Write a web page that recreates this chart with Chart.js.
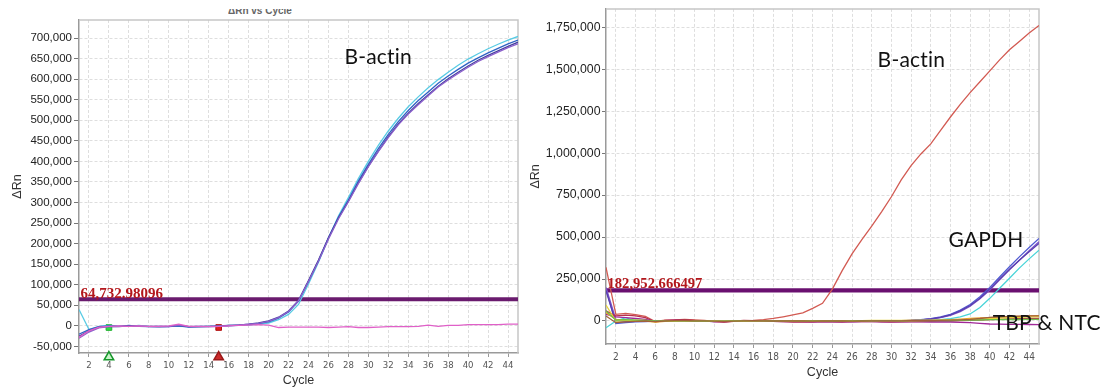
<!DOCTYPE html>
<html><head><meta charset="utf-8">
<script src="https://cdn.jsdelivr.net/npm/chart.js@4"></script>
<style>
html,body{margin:0;padding:0;background:#fff;width:1108px;height:389px;overflow:hidden;position:relative}
#c1{position:absolute;left:0;top:0}
#c2{position:absolute;left:525px;top:0}
#ttlbox{position:absolute;left:228px;top:9px;width:70px;height:8px;overflow:hidden}
#ttl{position:absolute;left:0;top:-4px;font:bold 10px 'Liberation Sans',sans-serif;color:#666;white-space:nowrap}
</style></head><body>
<div id="ttlbox"><div id="ttl">ΔRn vs Cycle</div></div>
<canvas id="c1" width="525" height="389"></canvas>
<canvas id="c2" width="583" height="389"></canvas>
<script>
// ---------- data ----------
const cycles = [1,2,3,4,5,6,7,8,9,10,11,12,13,14,15,16,17,18,19,20,21,22,23,24,25,26,27,28,29,30,31,32,33,34,35,36,37,38,39,40,41,42,43,44,45];
const xTickValues = [2,4,6,8,10,12,14,16,18,20,22,24,26,28,30,32,34,36,38,40,42,44];
const leftYTicks = [-50000,0,50000,100000,150000,200000,250000,300000,350000,400000,450000,500000,550000,600000,650000,700000];
const rightYTicks = [0,250000,500000,750000,1000000,1250000,1500000,1750000];
const leftThreshold = 64732.98096;
const rightThreshold = 182952.666497;
const baselineStart = 4;
const baselineEnd = 15;

const leftBlue = [-20000,-9000,-2000,0,-1000,1000,-1000,-2000,-1000,-2000,
0,-3000,-2000,-1000,0,1000,2000,3000,6000,10000,
19000,34000,60000,108000,158000,214000,264000,306000,352000,393000,
431000,466000,497000,524000,548000,569000,590000,608000,624000,639000,
652000,664000,675000,686000,695000];
const leftCyan = [40000,-9000,-1000,1000,0,-1000,1000,-1000,-2000,-1000,
-1000,-2000,-1000,-2000,-1000,0,1000,2000,4000,7000,
15000,28000,52000,102000,155000,213000,267000,312000,358000,400000,
439000,474000,505000,533000,557000,579000,599000,617000,634000,649000,
662000,674000,685000,695000,704000];
const leftNavy = [-25000,-12000,-3000,-1000,-2000,0,-1000,-1000,-2000,-1000,
1000,-2000,-2000,-1000,-1000,1000,2000,4000,7000,12000,
21000,36000,62000,110000,160000,214000,262000,303000,348000,388000,
425000,460000,491000,517000,541000,562000,583000,601000,617000,632000,
646000,658000,669000,680000,690000];
const leftViolet = [-30000,-15000,-5000,-2000,-1000,-1000,0,-2000,-1000,-2000,
2000,-2000,-1000,-2000,-1000,0,2000,4000,6000,11000,
20000,35000,61000,108000,157000,211000,260000,302000,346000,387000,
424000,458000,489000,515000,538000,560000,581000,598000,614000,629000,
643000,655000,666000,677000,686000];
const leftNTC = [-28000,-12000,-3000,-1000,0,-1000,0,-1000,-1000,0,
4000,-1000,-1000,-2000,-1000,0,1000,2000,3000,2000,
-4000,-3000,-3000,-3000,-3000,-4000,-3000,-2000,-4000,-4000,
-3000,-2000,-2000,-2000,-1000,2000,-1000,1000,1000,3000,
3000,3000,3000,4000,4000];

const rightBactin = [320000,40000,45000,38000,28000,-3000,5000,6000,10000,6000,
3000,-2000,-5000,-2000,2000,4000,8000,15000,25000,36000,
48000,75000,105000,190000,300000,400000,485000,565000,650000,740000,
840000,925000,995000,1055000,1135000,1215000,1290000,1360000,1425000,1490000,
1555000,1615000,1665000,1715000,1760000];
const rightNtcRed = [60000,30000,35000,30000,20000,-5000,3000,6000,8000,4000,
2000,-4000,-6000,-1000,3000,2000,1000,-2000,-4000,-6000,
-5000,-6000,-4000,-5000,-7000,-4000,-3000,-2000,-5000,-6000,
-5000,-4000,-3000,-2000,-1000,0,2000,4000,6000,8000,
10000,12000,14000,15000,16000];
const gapdhBlue = [190000,-15000,-10000,-5000,-3000,0,2000,1000,3000,1000,
-1000,-2000,-2000,0,1000,0,-1000,0,1000,2000,
0,-1000,-2000,-1000,0,-2000,-1000,0,-1000,0,
2000,4000,8000,14000,24000,40000,65000,98000,145000,200000,
262000,323000,382000,438000,492000];
const gapdhViolet = [200000,10000,0,-2000,-1000,-2000,1000,2000,2000,0,
0,-3000,-1000,-1000,0,1000,0,-1000,0,1000,
-1000,-2000,-1000,0,-1000,-3000,-2000,-1000,0,-1000,
1000,3000,6000,11000,20000,34000,56000,88000,132000,185000,
245000,305000,362000,418000,472000];
const gapdhIndigo = [180000,-8000,-4000,-2000,0,-1000,0,1000,2000,1000,
0,-1000,-2000,-1000,0,0,1000,0,-1000,0,
1000,0,-1000,0,1000,-1000,-2000,0,0,1000,
2000,4000,7000,12000,22000,37000,60000,92000,136000,190000,
250000,308000,362000,413000,462000];
const gapdhCyan = [-40000,0,20000,0,2000,-2000,0,1000,1000,0,
-1000,-2000,-1000,0,0,1000,0,-1000,0,1000,
0,-1000,-1000,0,1000,-1000,0,0,-1000,0,
1000,2000,3000,4000,8000,14000,24000,42000,80000,135000,
195000,255000,315000,370000,422000];
const tbpOrange = [50000,10000,5000,2000,0,-6000,-2000,0,2000,1000,
0,-1000,-2000,-1000,0,1000,1000,2000,1000,0,
1000,0,1000,2000,1000,0,1000,2000,2000,2000,
2000,3000,3000,4000,5000,8000,11000,15000,18000,20000,
23000,26000,28000,30000,32000];
const tbpYellow = [95000,0,2000,5000,3000,-4000,0,1000,2000,1000,
1000,0,-1000,0,1000,1000,2000,2000,1000,1000,
2000,1000,2000,2000,2000,1000,2000,3000,3000,3000,
3000,3000,4000,4000,5000,5000,7000,10000,12000,14000,
17000,20000,22000,24000,25000];
const tbpGreen = [60000,5000,8000,5000,3000,0,1000,1000,2000,0,
0,-1000,-1000,0,1000,1000,1000,0,1000,1000,
0,1000,1000,0,1000,1000,2000,1000,2000,2000,
1000,2000,2000,2000,3000,3000,4000,5000,6000,8000,
8000,9000,9000,10000,10000];
const tbpPurple = [40000,25000,20000,15000,10000,-3000,2000,3000,2000,0,
-1000,-3000,-4000,-2000,0,1000,0,-2000,-3000,-4000,
-4000,-5000,-5000,-4000,-5000,-5000,-4000,-3000,-5000,-5000,
-5000,-5000,-5000,-6000,-6000,-6000,-8000,-10000,-14000,-18000,
-19000,-20000,-20000,-21000,-22000];
const tbpBrown = [30000,-10000,-5000,-2000,0,-4000,0,2000,3000,1000,
1000,-1000,-3000,-1000,1000,2000,1000,0,0,1000,
0,-1000,0,1000,0,-1000,0,1000,1000,1000,
1000,2000,2000,3000,4000,5000,7000,10000,15000,22000,
25000,27000,29000,30000,30000];

// ---------- helpers ----------
const fmt = v => v.toLocaleString('en-US', {maximumFractionDigits: 6});
function curve(values, color, w) {
  return {type:'line', data: cycles.map((c,i)=>({x:c, y:values[i]})), borderColor: color,
          borderWidth: w || 1.3, pointRadius: 0, tension: 0, fill: false};
}
function thresholdLine(v, color) {
  return {type:'line', data:[{x:cycles[0], y:v},{x:cycles[cycles.length-1], y:v}], borderColor: color,
          borderWidth: 4.2, pointRadius: 0, tension: 0, fill:false};
}
const framePlugin = {
  id: 'frame',
  beforeDatasetsDraw(chart) {
    const a = chart.chartArea, ctx = chart.ctx;
    ctx.save();
    ctx.strokeStyle = '#c6c6c6'; ctx.lineWidth = 1.5;
    ctx.beginPath();
    ctx.moveTo(a.left, a.top); ctx.lineTo(a.right, a.top); ctx.lineTo(a.right, a.bottom);
    ctx.stroke();
    ctx.restore();
  }
};
const notesPlugin = {
  id: 'notes',
  afterDatasetsDraw(chart, args, opts) {
    const ctx = chart.ctx, xs = chart.scales.x, ys = chart.scales.y;
    ctx.save();
    // threshold label
    ctx.font = 'bold ' + opts.thrSize + 'px "Liberation Serif", serif';
    ctx.fillStyle = '#b3171c';
    ctx.textAlign = 'left'; ctx.textBaseline = 'alphabetic';
    ctx.fillText(fmt(opts.threshold), xs.getPixelForValue(cycles[0]) + 1.5, ys.getPixelForValue(opts.threshold) - opts.thrLift);
    // annotations
    ctx.font = '21px Lato, "Open Sans", sans-serif';
    if ('letterSpacing' in ctx) ctx.letterSpacing = '0.2px';
    ctx.fillStyle = '#111';
    ctx.textBaseline = 'middle';
    for (const n of opts.items) ctx.fillText(n.text, xs.getPixelForValue(n.x), ys.getPixelForValue(n.y));
    ctx.restore();
  }
};

function makeOptions(o) {
  return {
    responsive: false, animation: false,
    layout: {padding: {left: 0, top: o.top, right: o.right, bottom: 0}},
    plugins: {
      legend: {display: false}, tooltip: {enabled: false}, title: {display: false},
      notes: {threshold: o.threshold, thrSize: o.thrSize, thrLift: o.thrLift, items: o.items}
    },
    scales: {
      x: {
        type: 'linear', min: 1, max: 45,
        afterBuildTicks: s => { s.ticks = xTickValues.map(v => ({value: v})); },
        afterFit: s => { s.height = o.xh; },
        ticks: {font: {family: "'Liberation Sans Narrow','DejaVu Sans Condensed',sans-serif", size: o.xfs},
                color: '#555', padding: 3, autoSkip: false, maxRotation: 0},
        grid: {color: '#dedede', tickColor: '#999', tickLength: 4, lineWidth: 1},
        border: {color: '#9a9a9a', width: 1.5, dash: [3, 2]},
        title: {display: true, text: 'Cycle', color: '#333',
                font: {family: "'Liberation Sans',sans-serif", size: 12.5}, padding: {top: 0, bottom: o.xtp}}
      },
      y: {
        type: 'linear', min: o.ymin, max: o.ymax,
        afterBuildTicks: s => { s.ticks = o.yticks.map(v => ({value: v})); },
        afterFit: s => { s.width = o.yw; },
        ticks: {font: {family: "'Liberation Sans',sans-serif", size: o.yfs}, color: '#222',
                padding: o.ypad, callback: v => fmt(v), autoSkip: false},
        grid: {color: '#dedede', tickColor: '#777', tickLength: o.ytl, lineWidth: 1},
        border: {color: '#9a9a9a', width: 1.5, dash: [3, 2]},
        title: {display: true, text: 'ΔRn', color: '#333',
                font: {family: "'Liberation Sans',sans-serif", size: 12.5}, padding: {top: o.ytp, bottom: 0}}
      }
    }
  };
}

// ---------- left chart ----------
new Chart(document.getElementById('c1'), {
  type: 'line',
  data: {datasets: [
    curve(leftNTC, '#e060c8'),
    curve(leftViolet, '#8c60cc'),
    curve(leftNavy, '#46409e'),
    curve(leftBlue, '#2f62c4'),
    curve(leftCyan, '#58cbe4'),
    thresholdLine(leftThreshold, '#6a1b6e'),
    {type:'scatter', data:[{x:baselineStart, y:-4000}], pointStyle:'rect', pointRadius:4,
     backgroundColor:'#2ee040', borderColor:'#22b030', borderWidth:1},
    {type:'scatter', data:[{x:baselineEnd, y:-4000}], pointStyle:'rect', pointRadius:4,
     backgroundColor:'#e02020', borderColor:'#b01010', borderWidth:1},
    {type:'scatter', data:[{x:baselineStart, y:-76000}], pointStyle:'triangle', pointRadius:5.5, clip:false,
     backgroundColor:'#c8f2c8', borderColor:'#15962a', borderWidth:1.5},
    {type:'scatter', data:[{x:baselineEnd, y:-76000}], pointStyle:'triangle', pointRadius:5.5, clip:false,
     backgroundColor:'#cc2a2a', borderColor:'#9a1a1a', borderWidth:1.5}
  ]},
  options: makeOptions({top: 20, right: 6, xh: 36, yw: 79, ymin: -66000, ymax: 744000, yticks: leftYTicks,
    xfs: 9.5, yfs: 11.5, ypad: 2, ytl: 5, xtp: 1, ytp: 10.5,
    threshold: leftThreshold, thrSize: 15, thrLift: 1.5,
    items: [{text: 'B-actin', x: 27.6, y: 654000}]}),
  plugins: [framePlugin, notesPlugin]
});

// ---------- right chart ----------
new Chart(document.getElementById('c2'), {
  type: 'line',
  data: {datasets: [
    curve(tbpBrown, '#a0603c'),
    curve(tbpGreen, '#6cc04a'),
    curve(tbpYellow, '#e6d23c'),
    curve(tbpOrange, '#e8a028'),
    curve(tbpPurple, '#a02898'),
    curve(rightNtcRed, '#b8304c'),
    curve(gapdhCyan, '#48d4d8'),
    curve(gapdhIndigo, '#5a3fb0'),
    curve(gapdhViolet, '#7c52c8'),
    curve(gapdhBlue, '#4f5ad2'),
    curve(rightBactin, '#d25a52'),
    thresholdLine(rightThreshold, '#6a1070')
  ]},
  options: makeOptions({top: 8, right: 69, xh: 45, yw: 81, ymin: -137000, ymax: 1859000, yticks: rightYTicks,
    xfs: 10, yfs: 12.3, ypad: 1.5, ytl: 4, xtp: 8.5, ytp: 3.5,
    threshold: rightThreshold, thrSize: 14.6, thrLift: 2,
    items: [{text: 'B-actin', x: 28.6, y: 1552000},
            {text: 'GAPDH', x: 35.8, y: 481000},
            {text: 'TBP & NTC', x: 40.3, y: -12000}]}),
  plugins: [framePlugin, notesPlugin]
});
</script>
</body></html>
